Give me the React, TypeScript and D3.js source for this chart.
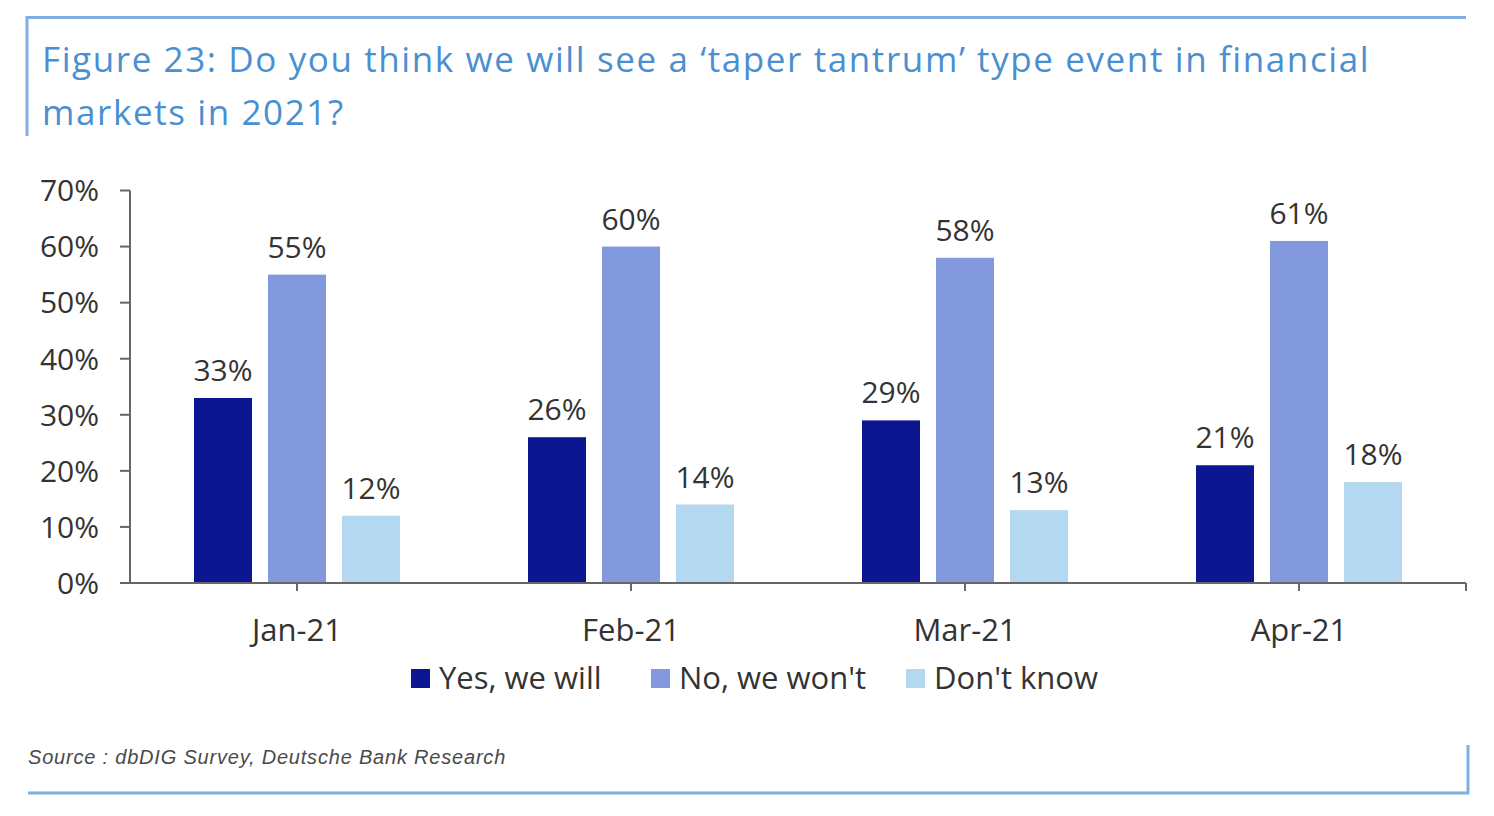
import React from 'react'
import * as d3 from 'd3'

const months = ['Jan-21', 'Feb-21', 'Mar-21', 'Apr-21']
const seriesNames = ['Yes, we will', "No, we won't", "Don't know"]
const yesValues = [33, 26, 29, 21]
const noValues = [55, 60, 58, 61]
const dontKnowValues = [12, 14, 13, 18]
const yTicks = [0, 10, 20, 30, 40, 50, 60, 70]
const colors = ['#0c1690', '#8399dd', '#b5d8f1']

const titleLines = [
  'Figure 23: Do you think we will see a \u2018taper tantrum\u2019 type event in financial',
  'markets in 2021?',
]
const sourceText = 'Source : dbDIG Survey, Deutsche Bank Research'

const W = 1494
const H = 816
const font = '"Open Sans", "Noto Sans", sans-serif'
const frameColor = '#7fb0df'
const axisColor = '#666'
const textColor = '#333'

export default function App() {
  const values = [yesValues, noValues, dontKnowValues]

  const x0 = d3.scaleBand<string>().domain(months).range([130, 1466]).padding(0)
  const x1 = d3
    .scaleBand<string>()
    .domain(seriesNames)
    .range([0, x0.bandwidth()])
    .paddingInner(0.216)
    .paddingOuter(0.865)
  const y = d3.scaleLinear().domain([0, 70]).range([583, 190.5])

  return (
    <div style={{ position: 'absolute', left: 0, top: 0 }}>
      <svg width={W} height={H} style={{ display: 'block', background: '#fff' }}>
        {/* frame */}
        <path d="M27,136 V17.5 H1466" fill="none" stroke={frameColor} strokeWidth={3} />
        <path d="M28,793 H1468 V745" fill="none" stroke={frameColor} strokeWidth={3} />

        {titleLines.map((t, i) => (
          <text
            key={i}
            x={42}
            y={72 + i * 53}
            fontFamily={font}
            fontSize={35}
            letterSpacing={1.6}
            fill="#4a8fd2"
          >
            {t}
          </text>
        ))}

        {/* y axis */}
        <line x1={130} x2={130} y1={y(70)} y2={y(0)} stroke={axisColor} strokeWidth={2} />
        {yTicks.map(t => (
          <g key={t}>
            <line x1={120} x2={130} y1={y(t)} y2={y(t)} stroke={axisColor} strokeWidth={2} />
            <text
              x={99}
              y={y(t)}
              dy="0.36em"
              textAnchor="end"
              fontFamily={font}
              fontSize={30}
              fill={textColor}
            >
              {t}%
            </text>
          </g>
        ))}

        {/* bars */}
        {months.map((m, mi) => (
          <g key={m} transform={`translate(${x0(m)},0)`}>
            {seriesNames.map((s, si) => {
              const v = values[si][mi]
              const bx = x1(s) as number
              return (
                <g key={s}>
                  <rect x={bx} y={y(v)} width={x1.bandwidth()} height={y(0) - y(v)} fill={colors[si]} />
                  <text
                    x={bx + x1.bandwidth() / 2}
                    y={y(v) - 17}
                    textAnchor="middle"
                    fontFamily={font}
                    fontSize={30}
                    fill={textColor}
                  >
                    {v}%
                  </text>
                </g>
              )
            })}
          </g>
        ))}

        {/* x axis */}
        <line x1={120} x2={1466} y1={y(0)} y2={y(0)} stroke={axisColor} strokeWidth={2} />
        {months.map(m => {
          const cx = (x0(m) as number) + x0.bandwidth() / 2
          return (
            <g key={m}>
              <line x1={cx} x2={cx} y1={y(0)} y2={y(0) + 8} stroke={axisColor} strokeWidth={2} />
              <text x={cx} y={641} textAnchor="middle" fontFamily={font} fontSize={31} fill={textColor}>
                {m}
              </text>
            </g>
          )
        })}
        <line x1={1466} x2={1466} y1={y(0)} y2={y(0) + 8} stroke={axisColor} strokeWidth={2} />

        {/* legend */}
        {seriesNames.map((s, i) => {
          const lx = [411, 651, 906][i]
          return (
            <g key={s}>
              <rect x={lx} y={669} width={19} height={19} fill={colors[i]} />
              <text x={lx + 28} y={689} fontFamily={font} fontSize={31} fill={textColor}>
                {s}
              </text>
            </g>
          )
        })}

        <text
          x={28}
          y={764}
          fontFamily='"Liberation Sans", Arial, sans-serif'
          fontStyle="italic"
          fontSize={20}
          letterSpacing={0.8}
          fill="#4a4a4a"
        >
          {sourceText}
        </text>
      </svg>
    </div>
  )
}
